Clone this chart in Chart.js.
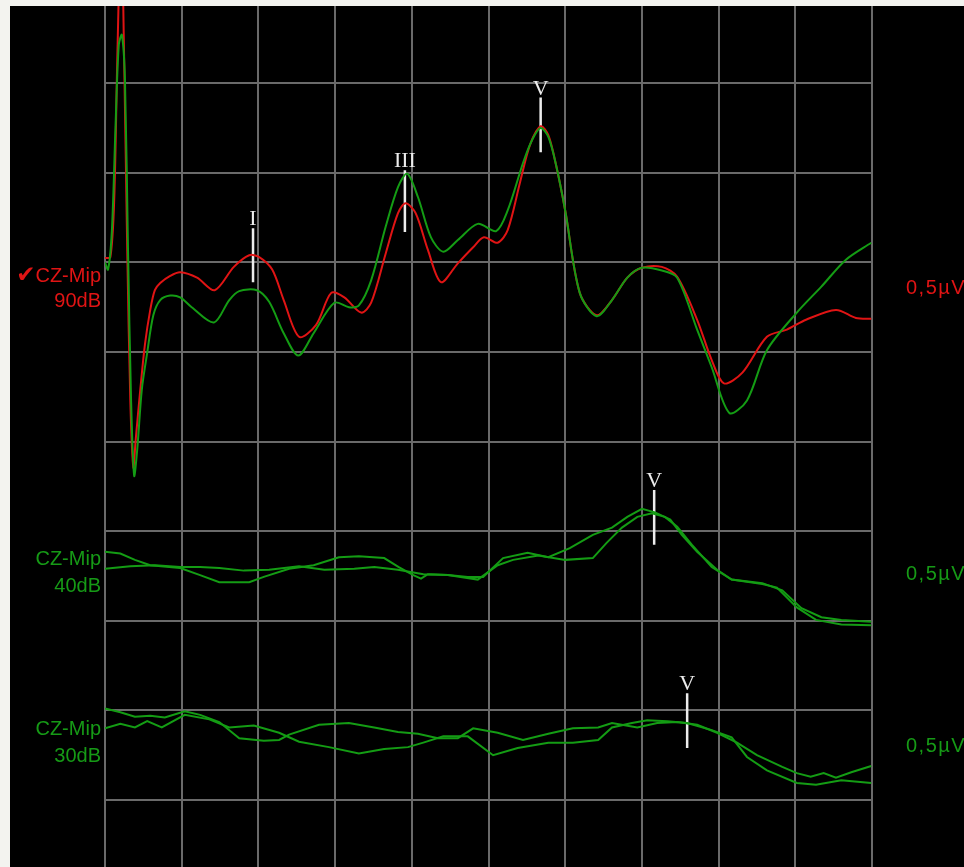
<!DOCTYPE html>
<html>
<head>
<meta charset="utf-8">
<script src="https://cdn.jsdelivr.net/npm/chart.js@4.4.1/dist/chart.umd.min.js"></script>
<style>
  body { margin: 0; width: 964px; height: 867px; overflow: hidden; background: #f3f3ef; position: relative; }
  #wrap { position: absolute; left: 10px; top: 6px; width: 954px; height: 861px; background: #000; }
  .lbl { position: absolute; font-family: "Liberation Sans", Arial, sans-serif; font-size: 20px; line-height: 20px; white-space: nowrap; }
  .r { left: 0; width: 101px; text-align: right; }
  .u { left: 906px; letter-spacing: 1.5px; }
  .red { color: #e01414; }
  .grn { color: #169a16; }
</style>
</head>
<body>
<div id="wrap"><canvas id="abr" width="954" height="861"></canvas></div>

<!-- kanal-label kiri dan skala kanan -->
<div class="lbl r red" style="top:264px"><span style="font-family:'DejaVu Sans';font-weight:bold;font-size:23px">✔</span>CZ-Mip</div>
<div class="lbl r red" style="top:290px">90dB</div>
<div class="lbl u red" style="top:277px">0,5µV</div>

<div class="lbl r grn" style="top:548px">CZ-Mip</div>
<div class="lbl r grn" style="top:575px">40dB</div>
<div class="lbl u grn" style="top:563px">0,5µV</div>

<div class="lbl r grn" style="top:718px">CZ-Mip</div>
<div class="lbl r grn" style="top:745px">30dB</div>
<div class="lbl u grn" style="top:735px">0,5µV</div>

<script>
// waktu (ms) dan amplitudo (divisi) tiap kurva
const red90 = [[0.00,6.05],[0.07,6.06],[0.12,6.70],[0.16,8.26],[0.21,9.82],[0.25,8.26],[0.29,6.14],[0.33,4.46],[0.37,3.71],[0.40,4.02],[0.46,4.58],[0.52,5.08],[0.59,5.47],[0.65,5.69],[0.72,5.77],[0.85,5.85],[0.98,5.89],[1.20,5.83],[1.43,5.69],[1.68,5.95],[1.88,6.08],[2.01,6.06],[2.18,5.92],[2.33,5.58],[2.53,5.17],[2.75,5.30],[2.95,5.66],[3.12,5.61],[3.34,5.44],[3.47,5.55],[3.66,6.10],[3.82,6.55],[3.92,6.66],[4.05,6.55],[4.21,6.14],[4.38,5.78],[4.60,5.99],[4.80,6.17],[4.94,6.28],[5.12,6.22],[5.25,6.36],[5.41,6.89],[5.54,7.31],[5.68,7.52],[5.78,7.42],[5.88,7.09],[6.00,6.58],[6.19,5.66],[6.41,5.41],[6.61,5.58],[6.81,5.83],[7.00,5.94],[7.26,5.95],[7.46,5.84],[7.72,5.36],[7.91,4.91],[8.07,4.65],[8.31,4.77],[8.63,5.17],[8.89,5.25],[9.14,5.36],[9.53,5.47],[9.79,5.38],[9.99,5.37]];
const green90 = [[0.00,6.00],[0.04,5.92],[0.09,6.36],[0.14,7.59],[0.18,8.43],[0.22,8.54],[0.26,8.04],[0.30,6.14],[0.34,4.46],[0.38,3.62],[0.42,3.91],[0.48,4.58],[0.55,4.99],[0.63,5.41],[0.72,5.58],[0.85,5.63],[0.98,5.61],[1.13,5.50],[1.42,5.33],[1.62,5.58],[1.75,5.68],[1.98,5.69],[2.14,5.56],[2.33,5.21],[2.52,4.96],[2.72,5.21],[2.99,5.55],[3.18,5.50],[3.31,5.52],[3.47,5.80],[3.66,6.40],[3.82,6.84],[3.94,6.99],[4.08,6.73],[4.25,6.28],[4.41,6.12],[4.60,6.25],[4.86,6.43],[5.10,6.35],[5.25,6.58],[5.45,7.11],[5.57,7.37],[5.68,7.50],[5.78,7.40],[5.88,7.09],[6.00,6.58],[6.19,5.66],[6.41,5.40],[6.61,5.58],[6.81,5.83],[7.00,5.94],[7.26,5.91],[7.46,5.83],[7.72,5.25],[7.91,4.83],[8.14,4.32],[8.37,4.46],[8.63,5.02],[9.02,5.44],[9.34,5.73],[9.66,6.03],[9.99,6.22]];
const a40 = [[0.00,2.77],[0.20,2.75],[0.39,2.68],[0.59,2.62],[0.98,2.59],[1.24,2.51],[1.49,2.43],[1.88,2.43],[2.07,2.49],[2.40,2.58],[2.72,2.62],[3.05,2.71],[3.31,2.72],[3.64,2.70],[3.83,2.60],[4.02,2.51],[4.12,2.47],[4.21,2.52],[4.47,2.51],[4.73,2.49],[4.93,2.49],[5.19,2.70],[5.51,2.76],[5.78,2.71],[6.06,2.81],[6.36,2.96],[6.61,3.04],[6.81,3.16],[7.00,3.25],[7.17,3.21],[7.37,3.13],[7.52,2.96],[7.72,2.77],[7.98,2.57],[8.17,2.46],[8.57,2.42],[8.83,2.34],[9.08,2.14],[9.34,2.04],[9.60,2.01],[9.99,1.99]];
const b40 = [[0.00,2.58],[0.33,2.61],[0.65,2.62],[0.98,2.60],[1.24,2.60],[1.49,2.59],[1.81,2.56],[2.14,2.57],[2.53,2.61],[2.86,2.57],[3.25,2.58],[3.51,2.60],[3.82,2.57],[4.15,2.52],[4.47,2.51],[4.86,2.46],[5.12,2.62],[5.32,2.68],[5.65,2.73],[6.00,2.68],[6.36,2.70],[6.54,2.87],[6.74,3.04],[6.94,3.16],[7.13,3.20],[7.30,3.16],[7.46,3.05],[7.65,2.85],[7.91,2.60],[8.17,2.46],[8.57,2.41],[8.76,2.37],[9.02,2.15],[9.27,2.01],[9.60,1.96],[9.99,1.95]];
const a30 = [[0.00,1.02],[0.20,0.98],[0.39,0.93],[0.59,0.94],[0.78,0.92],[1.04,0.99],[1.24,0.95],[1.49,0.87],[1.75,0.69],[2.07,0.66],[2.27,0.67],[2.40,0.73],[2.79,0.84],[3.18,0.86],[3.51,0.81],[3.82,0.76],[4.08,0.74],[4.34,0.69],[4.60,0.69],[4.80,0.80],[5.12,0.75],[5.45,0.67],[5.78,0.74],[6.10,0.80],[6.43,0.81],[6.61,0.86],[6.94,0.81],[7.20,0.86],[7.46,0.87],[7.72,0.84],[7.98,0.75],[8.24,0.64],[8.50,0.50],[8.83,0.37],[9.02,0.30],[9.20,0.26],[9.37,0.30],[9.53,0.25],[9.73,0.31],[9.99,0.38]];
const b30 = [[0.00,0.80],[0.20,0.85],[0.39,0.81],[0.55,0.88],[0.74,0.81],[1.04,0.95],[1.36,0.90],[1.62,0.81],[1.94,0.83],[2.27,0.75],[2.53,0.65],[2.92,0.59],[3.31,0.52],[3.64,0.57],[3.95,0.59],[4.15,0.64],[4.41,0.71],[4.73,0.71],[5.06,0.50],[5.38,0.58],[5.78,0.64],[6.10,0.64],[6.43,0.67],[6.61,0.81],[6.87,0.86],[7.07,0.89],[7.33,0.88],[7.59,0.86],[7.91,0.78],[8.17,0.70],[8.37,0.48],[8.63,0.33],[9.02,0.19],[9.27,0.17],[9.60,0.22],[9.99,0.19]];

// penanda gelombang (I, III, V)
const markerLabels = ['I', 'III', 'V', 'V', 'V'];
const markerX = [1.93, 3.91, 5.68, 7.16, 7.59];
const markerTop = [6.38, 7.03, 7.84, 3.46, 1.19];
const markerBottom = [5.78, 6.34, 7.23, 2.85, 0.58];

// garis grid: 10 divisi waktu, 9 garis horizontal
const xTicks = [0, 1, 2, 3, 4, 5, 6, 7, 8, 9, 10];
const yTicks = [0, 1, 2, 3, 4, 5, 6, 7, 8];

const RED = '#e01414';
const GREEN = '#149c14';

const toPts = arr => arr.map(p => ({ x: p[0], y: p[1] }));

function trace(arr, color, tension) {
    return { data: toPts(arr), borderColor: color, borderWidth: 2, pointRadius: 0, tension: tension };
}

const datasets = [
    trace(a30, GREEN, 0), trace(b30, GREEN, 0),
    trace(a40, GREEN, 0), trace(b40, GREEN, 0),
    trace(green90, GREEN, 0.3), trace(red90, RED, 0.3)
];

// garis vertikal penanda
markerX.forEach((x, i) => {
    datasets.push({
        data: [{ x: x, y: markerTop[i] }, { x: x, y: markerBottom[i] }],
        borderColor: '#ececec', borderWidth: 2.5, pointRadius: 0
    });
});

// teks penanda di atas garis
const markerText = {
    id: 'markerText',
    afterDatasetsDraw(chart) {
        const { ctx, scales } = chart;
        ctx.save();
        ctx.fillStyle = '#ececec';
        ctx.font = '22px "Liberation Serif", serif';
        ctx.textAlign = 'center';
        ctx.textBaseline = 'alphabetic';
        markerLabels.forEach((t, i) => {
            ctx.fillText(t, scales.x.getPixelForValue(markerX[i]), scales.y.getPixelForValue(markerTop[i]) - 3);
        });
        ctx.restore();
    }
};

const gridOpts = { color: '#6a6a6a', lineWidth: 2, drawTicks: false };

new Chart(document.getElementById('abr').getContext('2d'), {
    type: 'line',
    data: { datasets: datasets },
    options: {
        responsive: false,
        animation: false,
        layout: { padding: { left: 95, right: 92, top: 0, bottom: 0 } },
        scales: {
            x: {
                type: 'linear', min: 0, max: 10,
                afterBuildTicks: axis => { axis.ticks = xTicks.map(v => ({ value: v })); },
                ticks: { display: false },
                grid: gridOpts,
                border: { display: false }
            },
            y: {
                type: 'linear', min: -0.748, max: 8.862,
                afterBuildTicks: axis => { axis.ticks = yTicks.map(v => ({ value: v })); },
                ticks: { display: false },
                grid: gridOpts,
                border: { display: false }
            }
        },
        plugins: { legend: { display: false }, tooltip: { enabled: false } }
    },
    plugins: [markerText]
});
</script>
</body>
</html>
